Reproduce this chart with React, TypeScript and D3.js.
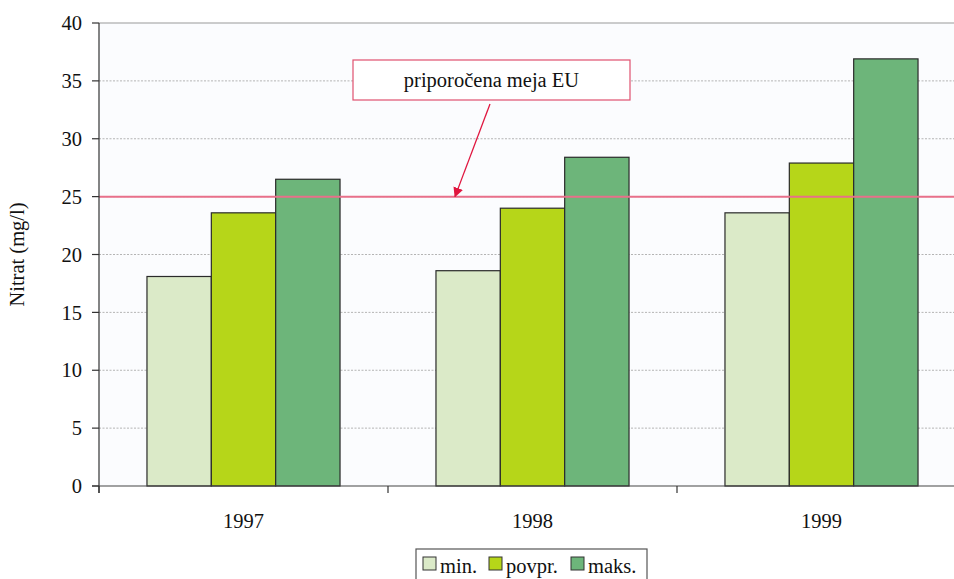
import React from "react";
import * as d3 from "d3";

const categories = ["1997", "1998", "1999"];
const seriesNames = ["min.", "povpr.", "maks."];
const minValues = [18.1, 18.6, 23.6];
const avgValues = [23.6, 24.0, 27.9];
const maxValues = [26.5, 28.4, 36.9];
const yTicks = [0, 5, 10, 15, 20, 25, 30, 35, 40];
const limitValue = 25;
const annotationText = "priporočena meja EU";
const yTitle = "Nitrat (mg/l)";

const colors = ["#dbeac8", "#b6d619", "#6db57a"];
const FONT = "'Liberation Serif', serif";

export default function App() {
  const W = 954, H = 579;
  const left = 99, top = 23, bottom = 486, right = 966;
  const y = d3.scaleLinear().domain([0, 40]).range([bottom, top]);
  const x = d3.scaleBand<string>().domain(categories).range([left, right]).padding(0);
  const bw = x.bandwidth();
  const inner = d3.scaleBand<string>().domain(seriesNames).range([bw * 0.166, bw * 0.834]).padding(0);
  const series = [minValues, avgValues, maxValues];

  const tickPositions = [...categories.map((c) => x(c)!), right];
  const txt = { fontFamily: FONT, fontSize: "20.5px", fill: "#111" } as React.CSSProperties;

  return (
    <svg width={W} height={H} style={{ position: "absolute", left: 0, top: 0, background: "#fff", fontFamily: FONT }}>
      <defs>
        <marker id="arr" viewBox="0 0 10 10" refX="9" refY="5" markerWidth="10" markerHeight="10" orient="auto-start-reverse" markerUnits="userSpaceOnUse">
          <path d="M0,0 L10,5 L0,10 z" fill="#e0163f" />
        </marker>
      </defs>
      <rect x={left} y={top} width={right - left} height={bottom - top} fill="#fbfcfe" />
      {yTicks.filter((t) => t > 0 && t < 40).map((t) => (
        <line key={t} x1={left} x2={right} y1={y(t)} y2={y(t)} stroke="#b4b4b4" strokeDasharray="2,1.5" strokeWidth={1} />
      ))}
      <line x1={left} x2={right} y1={y(40)} y2={y(40)} stroke="#9a9a9a" strokeWidth={1.2} />
      {categories.map((c, ci) => (
        <g key={c}>
          {series.map((vals, si) => (
            <rect
              key={si}
              x={x(c)! + inner(seriesNames[si])!}
              y={y(vals[ci])}
              width={inner.bandwidth()}
              height={y(0) - y(vals[ci])}
              fill={colors[si]}
              stroke="#2a2a2a"
              strokeWidth={1.2}
            />
          ))}
        </g>
      ))}
      <line x1={left} x2={right} y1={y(limitValue)} y2={y(limitValue)} stroke="#e8708a" strokeWidth={2} />
      <line x1={left} x2={left} y1={top} y2={bottom + 7} stroke="#333" strokeWidth={1.2} />
      <line x1={left - 7} x2={right} y1={bottom} y2={bottom} stroke="#444" strokeWidth={1.2} />
      {yTicks.map((t) => (
        <g key={t}>
          <line x1={left - 7} x2={left} y1={y(t)} y2={y(t)} stroke="#333" strokeWidth={1.2} />
          <text x={82} y={y(t)} dy="0.35em" textAnchor="end" style={txt}>{t}</text>
        </g>
      ))}
      {tickPositions.map((p, i) => (
        <line key={i} x1={p} x2={p} y1={bottom} y2={bottom + 7} stroke="#333" strokeWidth={1.2} />
      ))}
      {categories.map((c) => (
        <text key={c} x={x(c)! + bw / 2} y={528} textAnchor="middle" style={txt}>{c}</text>
      ))}
      <text transform={`translate(24,${(top + bottom) / 2}) rotate(-90)`} textAnchor="middle" style={txt}>{yTitle}</text>
      <rect x={353} y={60} width={277} height={40} fill="#fff" stroke="#e0506e" strokeWidth={1.2} />
      <text x={491.5} y={80} dy="0.35em" textAnchor="middle" style={txt}>{annotationText}</text>
      <line x1={490} y1={104} x2={455} y2={y(limitValue)} stroke="#e0163f" strokeWidth={1.3} markerEnd="url(#arr)" />
      <rect x={416} y={549} width={231} height={40} fill="#fff" stroke="#555" strokeWidth={1.2} />
      {seriesNames.map((s, i) => {
        const xs = [423, 489, 571][i];
        return (
          <g key={s}>
            <rect x={xs} y={557} width={13} height={13} fill={colors[i]} stroke="#333" strokeWidth={1} />
            <text x={xs + 17} y={573} style={txt}>{s}</text>
          </g>
        );
      })}
    </svg>
  );
}
